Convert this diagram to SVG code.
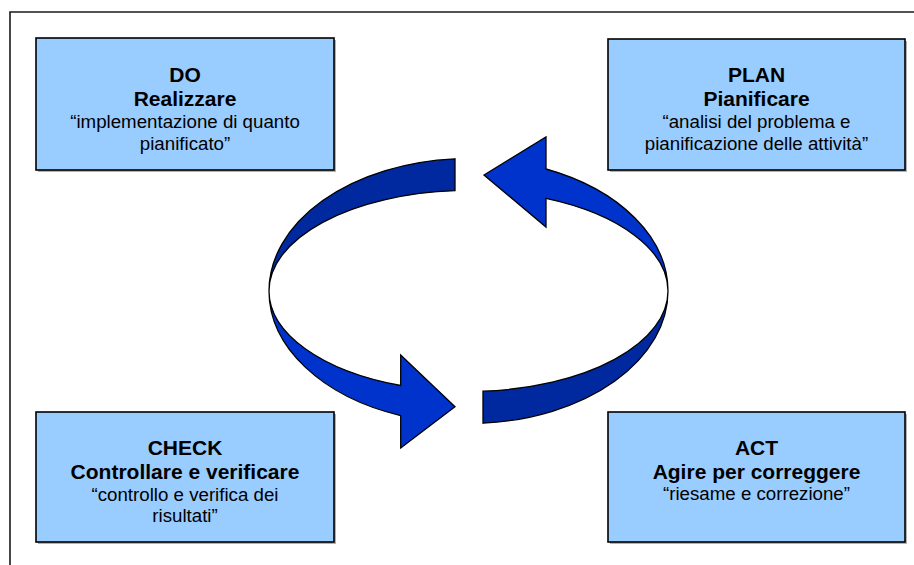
<svg xmlns="http://www.w3.org/2000/svg" width="914" height="565" viewBox="0 0 914 565">
<style>
.box{fill:#99CCFF;stroke:#000;stroke-width:1.6}
.shadow{fill:#b0b0b0}
.t{font-family:"Liberation Sans",Arial,sans-serif;text-anchor:middle;fill:#000}
.b{font-weight:bold;font-size:21px}
.r{font-size:18.7px}
.dark{fill:#0029A0;stroke:#000;stroke-width:1.3;stroke-linejoin:miter}
.light{fill:#0033CC;stroke:#000;stroke-width:1.3;stroke-linejoin:miter}
</style>
<rect width="914" height="565" fill="#fff"/>
<path d="M10,565 V12 H914" fill="none" stroke="#1a1a1a" stroke-width="1.6"/>

<g id="connectors">
<path class="dark" d="M455,158.8 A199.5,132.5 0 0 0 269,291 A199.5,100.5 0 0 1 455,190.7 Z"/>
<path class="light" d="M668,291 A199.5,132.5 0 0 0 546,169 L546,137 L484,175 L546,227 L546,198.4 A199.5,100.5 0 0 1 668,291 Z"/>
<path class="light" d="M269,291 A199.5,100.5 0 0 0 400.7,385.5 L400.7,355 L455,406.7 L400.7,448 L400.7,415.6 A199.5,132.5 0 0 1 269,291 Z"/>
<path class="dark" d="M483,391.2 A199.5,100.5 0 0 0 668,291 A199.5,132.5 0 0 1 483,423.2 Z"/>
</g>

<g id="do">
<rect class="shadow" x="38" y="40" width="298" height="132"/>
<rect class="box" x="36" y="38" width="298" height="132"/>
<text class="t b" x="185" y="82">DO</text>
<text class="t b" x="185" y="106">Realizzare</text>
<text class="t r" x="185" y="128">“implementazione di quanto</text>
<text class="t r" x="185" y="150">pianificato”</text>
</g>

<g id="plan">
<rect class="shadow" x="610" y="41" width="297" height="131"/>
<rect class="box" x="608" y="39" width="297" height="131"/>
<text class="t b" x="756.5" y="82">PLAN</text>
<text class="t b" x="756.5" y="106">Pianificare</text>
<text class="t r" x="756.5" y="128">“analisi del problema e</text>
<text class="t r" x="756.5" y="150">pianificazione delle attività”</text>
</g>

<g id="check">
<rect class="shadow" x="38" y="414" width="298" height="130"/>
<rect class="box" x="36" y="412" width="298" height="130"/>
<text class="t b" x="185" y="455">CHECK</text>
<text class="t b" x="185" y="479">Controllare e verificare</text>
<text class="t r" x="185" y="501">“controllo e verifica dei</text>
<text class="t r" x="185" y="522">risultati”</text>
</g>

<g id="act">
<rect class="shadow" x="610" y="414" width="297" height="130"/>
<rect class="box" x="608" y="412" width="297" height="130"/>
<text class="t b" x="756.5" y="455">ACT</text>
<text class="t b" x="756.5" y="479">Agire per correggere</text>
<text class="t r" x="756.5" y="500">“riesame e correzione”</text>
</g>
</svg>
